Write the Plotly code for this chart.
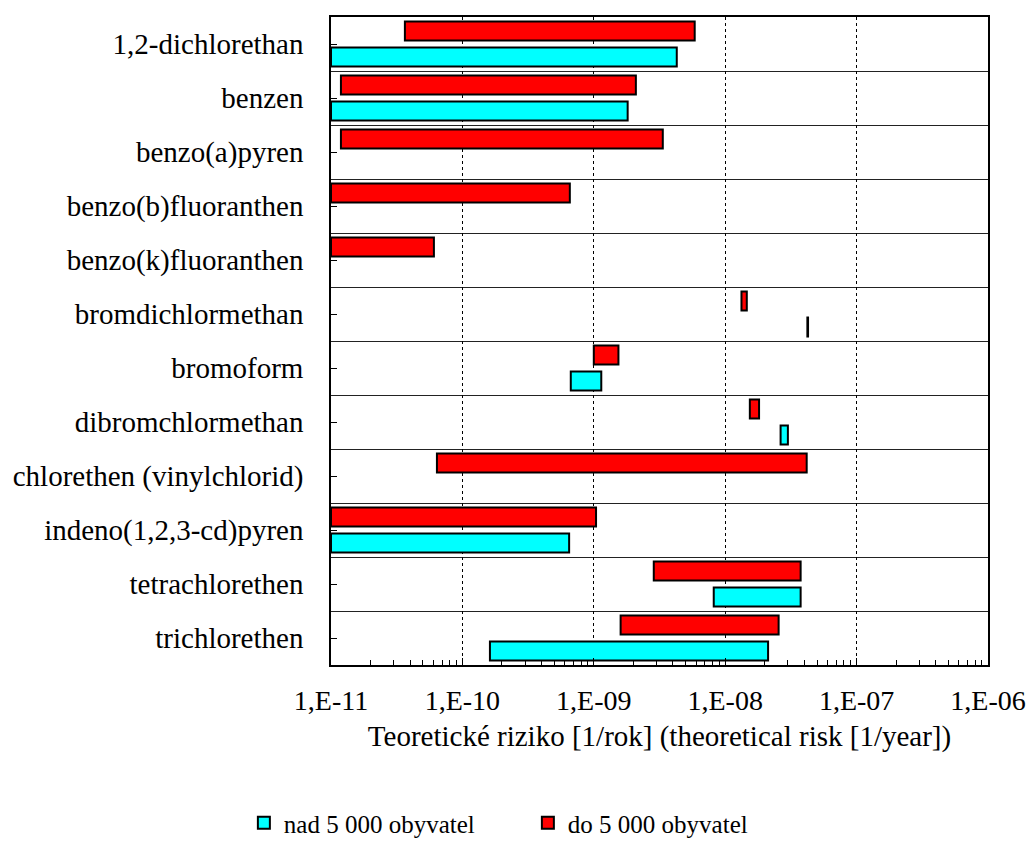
import plotly.graph_objects as go

# Substances (top to bottom)
categories = [
    "1,2-dichlorethan",
    "benzen",
    "benzo(a)pyren",
    "benzo(b)fluoranthen",
    "benzo(k)fluoranthen",
    "bromdichlormethan",
    "bromoform",
    "dibromchlormethan",
    "chlorethen (vinylchlorid)",
    "indeno(1,2,3-cd)pyren",
    "tetrachlorethen",
    "trichlorethen",
]

# Risk ranges for municipalities up to 5 000 inhabitants [1/year]
do_lo = [3.65e-11, 1.19e-11, 1.19e-11, 1e-11, 1e-11, 1.33e-8, 1.0e-9, 1.54e-8, 6.4e-11, 1e-11, 2.86e-9, 1.6e-9]
do_hi = [5.86e-9, 2.09e-9, 3.35e-9, 6.57e-10, 6.07e-11, 1.46e-8, 1.54e-9, 1.81e-8, 4.17e-8, 1.04e-9, 3.75e-8, 2.55e-8]

# Risk ranges for municipalities above 5 000 inhabitants [1/year]
nad_lo = [1e-11, 1e-11, None, None, None, 4.22e-8, 6.68e-10, 2.64e-8, None, 1e-11, 8.18e-9, 1.62e-10]
nad_hi = [4.28e-9, 1.81e-9, None, None, None, 4.27e-8, 1.14e-9, 3.0e-8, None, 6.49e-10, 3.75e-8, 2.12e-8]

x_tickvals = [1e-11, 1e-10, 1e-9, 1e-8, 1e-7, 1e-6]
x_ticktext = ["1,E-11", "1,E-10", "1,E-09", "1,E-08", "1,E-07", "1,E-06"]

FONT = "Liberation Serif, Times New Roman, DejaVu Serif, serif"
positions = list(range(len(categories)))


def spans(lo, hi):
    return [None if a is None else b - a for a, b in zip(lo, hi)]


fig = go.Figure()

fig.add_trace(go.Bar(
    name="nad 5 000 obyvatel",
    orientation="h",
    y=positions,
    x=spans(nad_lo, nad_hi),
    base=nad_lo,
    width=0.352,
    offset=0.065,
    marker=dict(color="#00FFFF", line=dict(color="black", width=2)),
))

fig.add_trace(go.Bar(
    name="do 5 000 obyvatel",
    orientation="h",
    y=positions,
    x=spans(do_lo, do_hi),
    base=do_lo,
    width=0.352,
    offset=-0.417,
    marker=dict(color="#FF0000", line=dict(color="black", width=2)),
))

minor_x = [k * 10.0 ** e for e in range(-11, -6) for k in range(2, 10)]

fig.update_layout(
    width=1031,
    height=845,
    margin=dict(l=331, r=43, t=17, b=180, autoexpand=False),
    paper_bgcolor="white",
    plot_bgcolor="white",
    barmode="overlay",
    font=dict(family=FONT, size=29, color="black"),
    showlegend=True,
    legend=dict(
        orientation="h",
        xref="container",
        yref="container",
        x=0.512,
        xanchor="center",
        y=0.026,
        yanchor="middle",
        font=dict(family=FONT, size=25, color="black"),
        itemsizing="constant",
        itemwidth=30,
        entrywidth=239,
    ),
    xaxis=dict(
        type="log",
        range=[-11, -6],
        automargin=False,
        tickmode="array",
        tickvals=x_tickvals,
        ticktext=x_ticktext,
        tickfont=dict(family=FONT, size=28),
        ticks="inside",
        ticklen=7,
        tickcolor="black",
        ticklabelstandoff=10,
        showgrid=True,
        gridcolor="black",
        griddash="dot",
        gridwidth=1,
        showline=True,
        linecolor="black",
        linewidth=1.5,
        mirror=True,
        zeroline=False,
        minor=dict(tickmode="array", tickvals=minor_x, ticks="inside", ticklen=5,
                   tickcolor="black", showgrid=False),
        title=dict(text="Teoretické riziko [1/rok] (theoretical risk [1/year])",
                   font=dict(family=FONT, size=29), standoff=10),
    ),
    yaxis=dict(
        range=[len(categories) - 0.5, -0.5],
        automargin=False,
        tickmode="array",
        tickvals=positions,
        ticktext=categories,
        tickfont=dict(family=FONT, size=29),
        ticks="inside",
        ticklen=6,
        tickcolor="black",
        ticklabelstandoff=20,
        showgrid=False,
        showline=True,
        linecolor="black",
        linewidth=1.5,
        mirror=True,
        zeroline=False,
        minor=dict(tickmode="array", tickvals=[i + 0.5 for i in range(-1, len(categories))],
                   ticks="", showgrid=True, gridcolor="#222222", gridwidth=1),
    ),
)

fig.write_html("out.html")
